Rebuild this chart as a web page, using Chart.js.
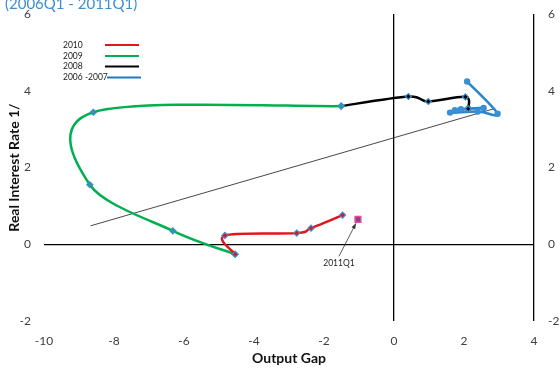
<!DOCTYPE html>
<html>
<head>
<meta charset="utf-8">
<script src="https://cdn.jsdelivr.net/npm/chart.js@4"></script>
<style>
  body { margin: 0; background: #fff; }
  #chart { display: block; }
</style>
</head>
<body>
<canvas id="chart" width="560" height="371"></canvas>
<script>
// Output gap (x) vs real interest rate (y), quarterly path
const blue0607 = [[2.09, 4.24], [2.96, 3.40], [2.39, 3.46], [1.60, 3.43], [1.74, 3.49], [1.91, 3.52], [2.56, 3.55], [2.12, 3.53]];
const black08 = [[2.12, 3.53], [2.04, 3.84], [0.98, 3.72], [0.41, 3.85], [-1.51, 3.60]];
const green09 = [[-1.51, 3.60], [-8.59, 3.44], [-8.69, 1.55], [-6.32, 0.35], [-4.54, -0.26]];
const red10 = [[-4.54, -0.26], [-4.83, 0.23], [-2.78, 0.29], [-2.37, 0.42], [-1.47, 0.76]];
const q2011 = [[-1.03, 0.65]];
const trend = [[-8.67, 0.48], [2.89, 3.54]];

const legendLabels = ['2010', '2009', '2008', '2006 -2007'];
const legendColors = ['#e3141b', '#00b050', '#000000', '#1f78c4'];
const xTicks = [-10, -8, -6, -4, -2, 0, 2, 4];
const yTicks = [-2, 0, 2, 4, 6];

const FONT = 'Lato, "Open Sans", sans-serif';
const toXY = arr => arr.map(p => ({ x: p[0], y: p[1] }));

// Excel-style smoothing: uniform Catmull-Rom control points
const smooth = {
    id: 'smooth',
    beforeDatasetDraw(chart, args) {
        const meta = args.meta;
        const line = meta.dataset;
        if (!line || !line.points || line.points.length < 3) return;
        line.updateControlPoints(chart.chartArea, meta.iScale.axis);
        const pts = line.points;
        pts.forEach((p, i) => {
            const a = pts[i - 1] || p;
            const b = pts[i + 1] || p;
            const dx = (b.x - a.x) / 6, dy = (b.y - a.y) / 6;
            p.cp1x = p.x - dx; p.cp1y = p.y - dy;
            p.cp2x = p.x + dx; p.cp2y = p.y + dy;
        });
        line._path = undefined;
    }
};

// title, legend and the 2011Q1 callout
const extras = {
    id: 'extras',
    afterDraw(chart) {
        const ctx = chart.ctx;
        ctx.save();
        ctx.fillStyle = '#3d8fd1';
        ctx.font = '15px ' + FONT;
        ctx.textBaseline = 'alphabetic';
        ctx.fillText('(2006Q1 - 2011Q1)', 5, 9);

        ctx.font = '8.5px ' + FONT;
        ctx.textBaseline = 'middle';
        const rows = [45, 56, 66.5, 77.5];
        legendLabels.forEach((lab, i) => {
            ctx.fillStyle = '#222';
            ctx.fillText(lab, 63, rows[i]);
            ctx.strokeStyle = legendColors[i];
            ctx.lineWidth = 2.2;
            ctx.beginPath();
            const x0 = i === 3 ? 107 : 105;
            ctx.moveTo(x0, rows[i]);
            ctx.lineTo(x0 + 34, rows[i]);
            ctx.stroke();
        });

        // callout arrow
        const px = chart.scales.x.getPixelForValue(q2011[0][0]);
        const py = chart.scales.y.getPixelForValue(q2011[0][1]);
        const ax = px - 2, ay = py + 4;
        const bx = px - 19, by = py + 37;
        ctx.strokeStyle = '#333';
        ctx.lineWidth = 0.8;
        ctx.beginPath();
        ctx.moveTo(bx, by);
        ctx.lineTo(ax, ay);
        ctx.stroke();
        const ang = Math.atan2(ay - by, ax - bx);
        ctx.fillStyle = '#333';
        ctx.beginPath();
        ctx.moveTo(ax, ay);
        ctx.lineTo(ax - 6 * Math.cos(ang - 0.35), ay - 6 * Math.sin(ang - 0.35));
        ctx.lineTo(ax - 6 * Math.cos(ang + 0.35), ay - 6 * Math.sin(ang + 0.35));
        ctx.closePath();
        ctx.fill();
        ctx.font = '8.5px ' + FONT;
        ctx.textAlign = 'center';
        ctx.fillStyle = '#222';
        ctx.fillText('2011Q1', bx, by + 7);
        ctx.restore();
    }
};

const marker = (color) => ({
    pointStyle: 'rectRot',
    pointRadius: 3,
    pointBackgroundColor: color,
    pointBorderColor: '#3a8fd0',
    pointBorderWidth: 1.2
});

const fitY = w => s => { s.width = w; s.paddingTop = 0; s.paddingBottom = 0; };

new Chart(document.getElementById('chart'), {
    type: 'scatter',
    data: {
        datasets: [
            Object.assign({ label: '2010', data: toXY(red10), showLine: true, borderColor: legendColors[0], borderWidth: 2.5, tension: 0.4, order: 1 }, marker(legendColors[0])),
            Object.assign({ label: '2009', data: toXY(green09), showLine: true, borderColor: legendColors[1], borderWidth: 2.5, tension: 0.4, order: 2 }, marker('#2a9a9a')),
            Object.assign({ label: '2008', data: toXY(black08), showLine: true, borderColor: legendColors[2], borderWidth: 2.5, tension: 0.4, order: 3 }, marker('#000')),
            {
                label: '2006 -2007', data: toXY(blue0607), showLine: true, borderColor: '#2a86cc', borderWidth: 2.6, tension: 0.4,
                pointStyle: 'circle', pointRadius: 3.2, pointBackgroundColor: '#3a90d4', pointBorderWidth: 0, order: 4
            },
            {
                label: '2011Q1', data: toXY(q2011), pointStyle: 'rect', pointRadius: 4,
                pointBackgroundColor: '#8e3c94', pointBorderColor: '#e0508c', pointBorderWidth: 1.5, order: 0
            },
            {
                label: 'trend', data: toXY(trend), showLine: true, borderColor: '#333', borderWidth: 0.9,
                pointRadius: 0, order: 5
            }
        ]
    },
    options: {
        responsive: false,
        animation: false,
        layout: { padding: { top: 14 } },
        plugins: { legend: { display: false }, tooltip: { enabled: false } },
        scales: {
            x: {
                type: 'linear', min: -10, max: 4,
                afterBuildTicks: s => { s.ticks = xTicks.map(v => ({ value: v })); },
                afterFit: s => { s.height = 50; },
                ticks: { color: '#404040', font: { family: FONT, size: 12 }, padding: 13 },
                grid: { color: c => (c.tick && (c.tick.value === 0 || c.tick.value === 4)) ? '#000' : 'rgba(0,0,0,0)', lineWidth: 1.3, drawTicks: false },
                border: { display: false },
                title: { display: true, text: 'Output Gap', color: '#111', font: { family: FONT, size: 14, weight: 'bold' }, padding: { bottom: 4 } }
            },
            y: {
                position: 'left', min: -2, max: 6,
                afterBuildTicks: s => { s.ticks = yTicks.map(v => ({ value: v })); },
                afterFit: fitY(44),
                ticks: { color: '#404040', font: { family: FONT, size: 12 }, padding: 13 },
                grid: { color: c => (c.tick && c.tick.value === 0) ? '#000' : 'rgba(0,0,0,0)', lineWidth: 1.3, drawTicks: false },
                border: { display: false },
                title: { display: true, text: 'Real Interest Rate 1/', color: '#111', font: { family: FONT, size: 14, weight: 'bold' }, padding: { top: 6 } }
            },
            y2: {
                position: 'right', min: -2, max: 6,
                afterBuildTicks: s => { s.ticks = yTicks.map(v => ({ value: v })); },
                afterFit: fitY(26),
                ticks: { color: '#404040', font: { family: FONT, size: 12 }, padding: 14 },
                grid: { display: false, drawTicks: false },
                border: { display: false }
            }
        }
    },
    plugins: [smooth, extras]
});
</script>
</body>
</html>
